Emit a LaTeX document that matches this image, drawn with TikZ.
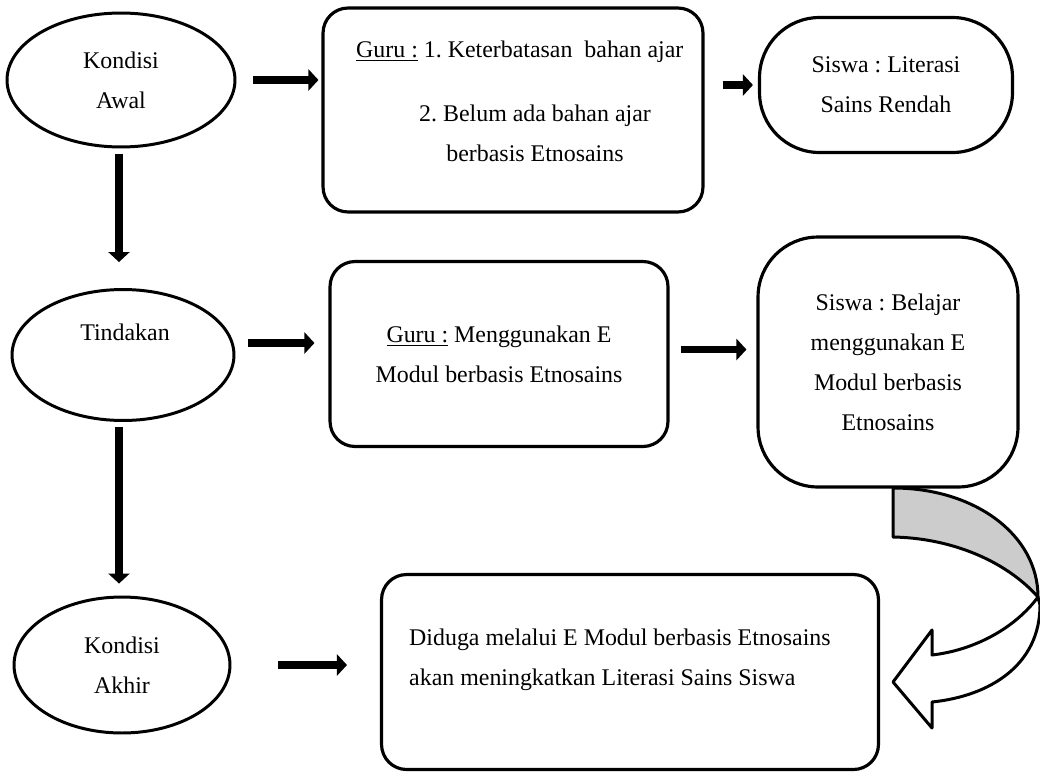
\documentclass[tikz,border=0pt]{standalone}
\usepackage{fontspec}
\setmainfont{Liberation Serif}
\usetikzlibrary{arrows.meta, shapes.geometric}
\frenchspacing

\begin{document}
\begin{tikzpicture}[x=0.02cm, y=-0.02cm,
        every node/.style={font=\fontsize{13.6pt}{22.8pt}\selectfont},
        oval/.style={draw, ellipse, line width=1.7pt, inner sep=0pt},
        box/.style={draw, rectangle, line width=1.8pt, rounded corners=0.5cm, inner sep=0pt},
        roundbox/.style={draw, rectangle, line width=1.8pt, rounded corners=1.2cm, inner sep=0pt, align=center},
        fatarrow/.style={line width=0.15cm, -{Triangle[length=0.2cm, width=0.42cm]}}]
        \useasboundingbox (0, 0) rectangle (1040, 771);

        % left column
        \node[oval, align=center, minimum width=4.56cm, minimum height=2.68cm] (awal) at (121, 80) {Kondisi\\Awal};
        \node[oval, minimum width=4.44cm, minimum height=2.62cm] (tindakan) at (123, 355) {};
        \node (tindakan-txt) at (125, 332) {Tindakan};
        \node[oval, align=center, minimum width=4.32cm, minimum height=2.72cm] (akhir) at (122, 665) {Kondisi\\Akhir};

        % first row
        \node[box, minimum width=7.6cm, minimum height=4.08cm] (guru1) at (513, 110) {};
        \node[anchor=west] (guru1-a) at (350, 52) {\underline{Guru :} 1. Keterbatasan\ \ bahan ajar};
        \node[align=center] (guru1-b) at (535, 133) {2. Belum ada bahan ajar\\berbasis Etnosains};
        \node[roundbox, minimum width=5.06cm, minimum height=2.7cm] (siswa1) at (886, 85) {Siswa : Literasi\\Sains Rendah};

        % second row
        \node[box, align=center, minimum width=6.76cm, minimum height=3.7cm] (guru2) at (499, 354) {\underline{Guru :} Menggunakan E\\Modul berbasis Etnosains};
        \node[roundbox, minimum width=5.2cm, minimum height=5cm] (siswa2) at (888, 362) {Siswa : Belajar\\menggunakan E\\Modul berbasis\\Etnosains};

        % third row
        \node[box, minimum width=9.94cm, minimum height=3.9cm] (hasil) at (630, 672) {};
        \node[anchor=west, align=left] (hasil-txt) at (403, 660) {Diduga melalui E Modul berbasis Etnosains\\akan meningkatkan Literasi Sains Siswa};

        % arrows
        \draw[fatarrow, shorten <=0.34cm, shorten >=0.06cm] (awal.east) -- (awal.east -| guru1.west);
        \draw[fatarrow, shorten <=0.36cm, shorten >=0.1cm] (guru1.east |- siswa1.west) -- (siswa1.west);
        \draw[fatarrow, shorten <=0.26cm, shorten >=0.28cm] ([yshift=0.24cm]tindakan.east) -- ([yshift=0.24cm]tindakan.east -| guru2.west);
        \draw[fatarrow, shorten <=0.22cm, shorten >=0.2cm] ([yshift=0.09cm]guru2.east) -- ([yshift=0.09cm]guru2.east -| siswa2.west);
        \draw[fatarrow, shorten <=0.94cm, shorten >=0.66cm] (akhir.east) -- (akhir.east -| hasil.west);
        \draw[fatarrow, shorten <=0.12cm, shorten >=0.52cm] ([xshift=-0.04cm]awal.south) -- ([xshift=-0.04cm]awal.south |- tindakan.north);
        \draw[fatarrow, shorten <=0.1cm, shorten >=0.24cm] ([xshift=-0.08cm]tindakan.south) -- ([xshift=-0.08cm]tindakan.south |- akhir.north);

        % curved arrow
        \draw[line width=1.7pt, fill=black!20, line join=round] (893, 488) .. controls (975, 488) and (1038, 535) .. (1038, 597)
            .. controls (1005, 560) and (950, 538) .. (893, 537) -- cycle;
        \draw[line width=1.7pt, fill=white, line join=round] (1038, 597) .. controls (1015, 628) and (975, 650) .. (932, 655)
            -- (932, 630) -- (893, 682) -- (932, 728) -- (932, 702)
            .. controls (990, 696) and (1040, 665) .. (1040, 605) -- cycle;
\end{tikzpicture}
\end{document}
